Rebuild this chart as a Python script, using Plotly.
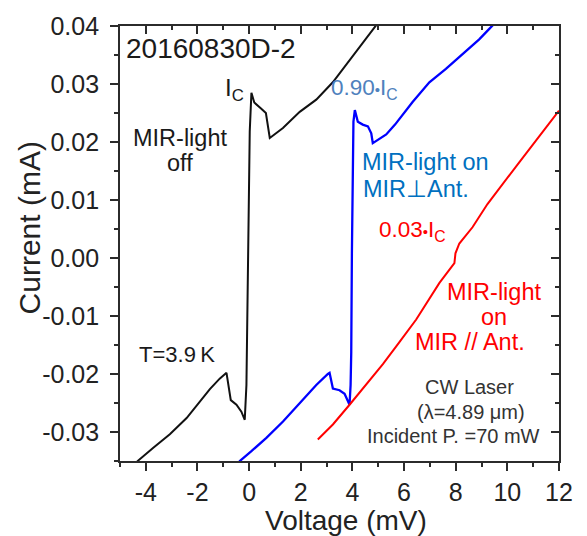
import plotly.graph_objects as go

# ---- data (Voltage in mV, Current in mA) ----
off_v = [-4.45, -4.29, -3.71, -3.07, -2.42, -1.91, -1.52, -1.14, -0.876,
         -0.71, -0.49, -0.30, -0.169, -0.104, -0.065, -0.015, 0.024, 0.089,
         0.20, 0.45, 0.65, 0.80, 1.31, 1.96, 2.60, 3.24, 4.02, 4.90, 5.00]
off_i = [-0.0356, -0.0349, -0.0327, -0.0304, -0.0276, -0.0247, -0.0226, -0.0208, -0.0198,
         -0.0245, -0.0253, -0.0265, -0.0279, -0.0219, -0.0077, 0.0008, 0.0218, 0.0285,
         0.0268, 0.0258, 0.0250, 0.0207, 0.0224, 0.0252, 0.0273, 0.0303, 0.0349, 0.0400, 0.0406]

perp_v = [-0.45, -0.36, 0.089, 0.669, 1.312, 1.957, 2.601, 3.05, 3.116, 3.244, 3.50,
          3.696, 3.825, 3.889, 3.93, 3.955, 3.98, 4.017, 4.04, 4.094, 4.21, 4.40,
          4.60, 4.73, 4.79, 5.31, 5.65, 6.33, 6.98, 7.62, 8.27, 8.91, 9.30, 9.45]
perp_i = [-0.0356, -0.0350, -0.0333, -0.0310, -0.0282, -0.0251, -0.0219, -0.0200, -0.0198, -0.0225, -0.0228,
          -0.0234, -0.0245, -0.0253, -0.0219, -0.0162, 0.0008, 0.0178, 0.0235, 0.0255, 0.0235, 0.0230,
          0.0227, 0.0215, 0.0198, 0.0213, 0.0230, 0.0269, 0.0303, 0.0326, 0.0352, 0.0377, 0.0395, 0.0402]

par_v = [2.66, 3.244, 3.889, 4.53, 5.18, 5.82, 6.47, 7.37, 7.95, 7.99, 8.14, 8.65, 9.23, 10.46, 12.0]
par_i = [-0.0313, -0.0287, -0.0253, -0.0219, -0.0183, -0.0145, -0.0106, -0.0043, -0.0009, 0.0008,
         0.0025, 0.0053, 0.0093, 0.0165, 0.0254]

x_ticks = [-4, -2, 0, 2, 4, 6, 8, 10, 12]
x_ticktext = ["-4", "-2", "0", "2", "4", "6", "8", "10", "12"]
y_ticks = [-0.03, -0.02, -0.01, 0.0, 0.01, 0.02, 0.03, 0.04]
y_ticktext = ["-0.03", "-0.02", "-0.01", "0.00", "0.01", "0.02", "0.03", "0.04"]

FONT = "Liberation Sans, Arial, sans-serif"
AX = "#2b2b2b"
TXT = "#222222"

fig = go.Figure()
fig.add_trace(go.Scatter(x=off_v, y=off_i, mode="lines",
                         line=dict(color="#111111", width=2), showlegend=False))
fig.add_trace(go.Scatter(x=perp_v, y=perp_i, mode="lines",
                         line=dict(color="#0000ff", width=2.3), showlegend=False))
fig.add_trace(go.Scatter(x=par_v, y=par_i, mode="lines",
                         line=dict(color="#ff0000", width=2), showlegend=False))
# invisible trace to hold the mirrored (inside-tick) axes
fig.add_trace(go.Scatter(x=[None], y=[None], xaxis="x2", yaxis="y2",
                         mode="lines", showlegend=False, hoverinfo="skip"))

common = dict(showgrid=False, zeroline=False, showline=True, linecolor=AX,
              linewidth=1.7, tickcolor=AX, tickwidth=1.5, ticklen=8)

fig.update_layout(
    width=587, height=536,
    margin=dict(l=120, r=28, t=20, b=75),
    paper_bgcolor="white", plot_bgcolor="white",
    font=dict(family=FONT, color=TXT),
    xaxis=dict(range=[-5, 12], tickmode="array", tickvals=x_ticks, ticktext=x_ticktext,
               ticks="outside", tickfont=dict(size=25, family=FONT, color=TXT),
               minor=dict(tick0=0, dtick=1, ticks="outside", ticklen=4, tickwidth=1.5, tickcolor=AX),
               **common),
    yaxis=dict(range=[-0.035, 0.04], tickmode="array", tickvals=y_ticks, ticktext=y_ticktext,
               ticks="outside", tickfont=dict(size=25, family=FONT, color=TXT),
               ticklabelstandoff=6,
               minor=dict(tick0=0, dtick=0.005, ticks="outside", ticklen=4, tickwidth=1.5, tickcolor=AX),
               **common),
    xaxis2=dict(range=[-5, 12], overlaying="x", side="top", anchor="y2", tickmode="array",
                tickvals=x_ticks, ticks="inside", showticklabels=False,
                minor=dict(tick0=0, dtick=1, ticks="inside", ticklen=4, tickwidth=1.5, tickcolor=AX),
                **common),
    yaxis2=dict(range=[-0.035, 0.04], overlaying="y", side="right", anchor="x2", tickmode="array",
                tickvals=y_ticks, ticks="inside", showticklabels=False,
                minor=dict(tick0=0, dtick=0.005, ticks="inside", ticklen=4, tickwidth=1.5, tickcolor=AX),
                **common),
)

# axis titles
fig.add_annotation(text="Voltage (mV)", xref="paper", yref="paper", x=0.515, y=-0.137,
                   xanchor="center", yanchor="middle", showarrow=False,
                   font=dict(family=FONT, size=28, color=TXT))
fig.add_annotation(text="Current (mA)", xref="paper", yref="paper", x=-0.207, y=0.535,
                   xanchor="center", yanchor="middle", showarrow=False, textangle=-90,
                   font=dict(family=FONT, size=30, color=TXT))

def note(text, x, y, size, color, xanchor="center"):
    fig.add_annotation(x=x, y=y, xref="x", yref="y", text=text, showarrow=False,
                       xanchor=xanchor, yanchor="middle",
                       font=dict(family=FONT, size=size, color=color))

DOT = '<span style="font-size:15px">\u2022</span>'
note("20160830D-2", -1.46, 0.0362, 28, "#1a1a1a")
note("I<sub>C</sub>", -0.57, 0.0290, 24, "#1a1a1a")
note("MIR-light", -2.68, 0.0207, 23.5, "#1a1a1a")
note("off", -2.68, 0.0163, 23.5, "#1a1a1a")
note("0.90" + DOT + "I<sub>C</sub>", 3.10, 0.0291, 22.5, "#4f81bd", xanchor="left")
note("MIR-light on", 4.28, 0.0165, 23.5, "#0070c0", xanchor="left")
note("MIR\u22a5Ant.", 4.35, 0.0119, 23.5, "#0070c0", xanchor="left")
note("0.03" + DOT + "I<sub>C</sub>", 4.95, 0.0046, 22.5, "#ff0000", xanchor="left")
note("MIR-light", 9.49, -0.0059, 23.5, "#ff0000")
note("on", 9.49, -0.0101, 23.5, "#ff0000")
note("MIR // Ant.", 8.57, -0.0144, 23.5, "#ff0000")
note("CW Laser", 8.53, -0.0222, 20, "#333333")
note("(\u03bb=4.89 \u03bcm)", 8.60, -0.0266, 20, "#333333")
note("Incident P. =70 mW", 7.91, -0.0307, 20, "#333333")
note("T=3.9\u2009K", -2.80, -0.0166, 22, "#1a1a1a")

fig.write_html("out.html")
